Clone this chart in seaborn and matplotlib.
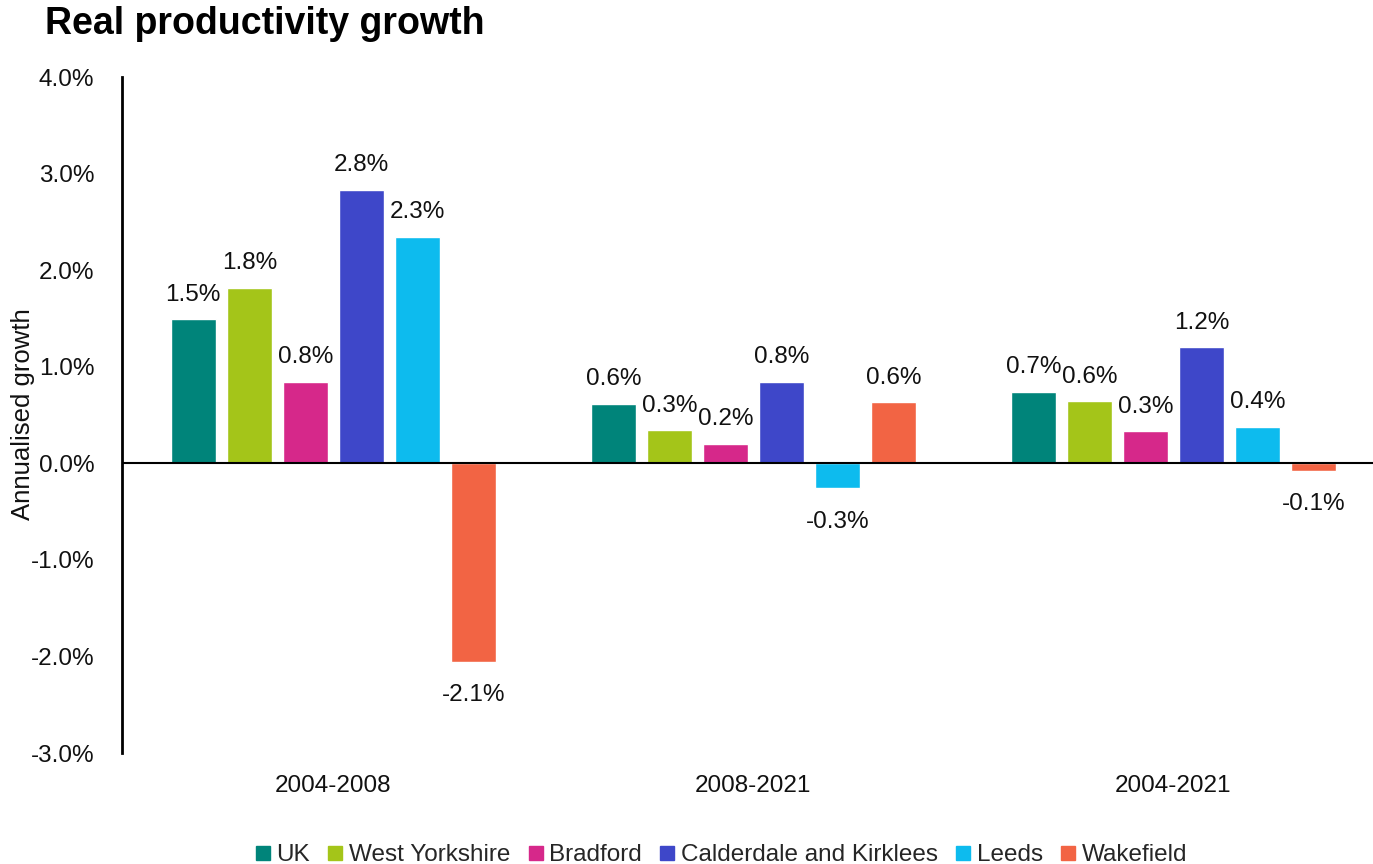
import matplotlib
matplotlib.use("Agg")
import matplotlib.pyplot as plt
from matplotlib.lines import Line2D
import seaborn as sns
import pandas as pd

periods = ["2004-2008", "2008-2021", "2004-2021"]
areas = ["UK", "West Yorkshire", "Bradford", "Calderdale and Kirklees", "Leeds", "Wakefield"]
uk = [1.49, 0.61, 0.74]
west_yorkshire = [1.82, 0.34, 0.64]
bradford = [0.84, 0.20, 0.33]
calderdale_kirklees = [2.83, 0.84, 1.20]
leeds = [2.34, -0.26, 0.38]
wakefield = [-2.06, 0.63, -0.08]
colors = ["#00847A", "#A4C519", "#D6288A", "#3E47C9", "#0DBBEE", "#F26444"]

series = [uk, west_yorkshire, bradford, calderdale_kirklees, leeds, wakefield]
rows = []
for area, vals in zip(areas, series):
    for period, v in zip(periods, vals):
        rows.append({"period": period, "area": area, "growth": v})
df = pd.DataFrame(rows)

sns.set_theme(style="white")
plt.rcParams["font.family"] = ["Liberation Sans", "DejaVu Sans"]

FS = 17.5
fig = plt.figure(figsize=(13.73, 8.64), dpi=100)
ax = fig.add_axes([122 / 1373, 1 - 753 / 864, 1 - 122 / 1373, (753 - 77) / 864])

sns.barplot(data=df, x="period", y="growth", hue="area", order=periods,
            hue_order=areas, palette=colors, width=0.8, gap=0.2,
            saturation=1, errorbar=None, legend=False, ax=ax)

# value labels: positive bars above, negative bars below
for cont in ax.containers:
    heights = [b.get_height() for b in cont]
    ax.bar_label(cont, labels=[f"{h:.1f}%" if h >= 0 else "" for h in heights],
                 padding=10, fontsize=FS, color="#111111")
    ax.bar_label(cont, labels=[f"{h:.1f}%" if h < 0 else "" for h in heights],
                 padding=16, fontsize=FS, color="#111111")

ax.axhline(0, color="black", lw=1.5, zorder=5)
ax.set_ylim(-3, 4)
ax.set_xlim(-0.503, 2.475)
ax.set_yticks([-3, -2, -1, 0, 1, 2, 3, 4])
ax.set_yticklabels([f"{t:.1f}%" for t in [-3, -2, -1, 0, 1, 2, 3, 4]])
ax.tick_params(axis="y", length=0, pad=20, labelsize=FS, labelcolor="#111111")
ax.tick_params(axis="x", length=0, pad=16, labelsize=FS, labelcolor="#111111")
ax.set_xlabel("")
ax.set_ylabel("Annualised growth", fontsize=18.5, color="#111111")
ax.yaxis.set_label_coords((35 - 122) / 1251, 0.502)
for s in ["top", "right", "bottom"]:
    ax.spines[s].set_visible(False)
ax.spines["left"].set_color("black")
ax.spines["left"].set_linewidth(2)

fig.text(45 / 1373, 1 - 24 / 864, "Real productivity growth", fontsize=27,
         fontweight="bold", va="center", ha="left", color="black")

handles = [Line2D([], [], marker="s", linestyle="none", markersize=10,
                  markerfacecolor=c, markeredgecolor=c) for c in colors]
fig.legend(handles, areas, loc="center", bbox_to_anchor=(722 / 1373, 1 - 855 / 864),
           ncol=6, frameon=False, fontsize=FS, handlelength=0.5,
           handletextpad=0.3, columnspacing=0.8, borderaxespad=0)

fig.savefig("out.png", dpi=100)
